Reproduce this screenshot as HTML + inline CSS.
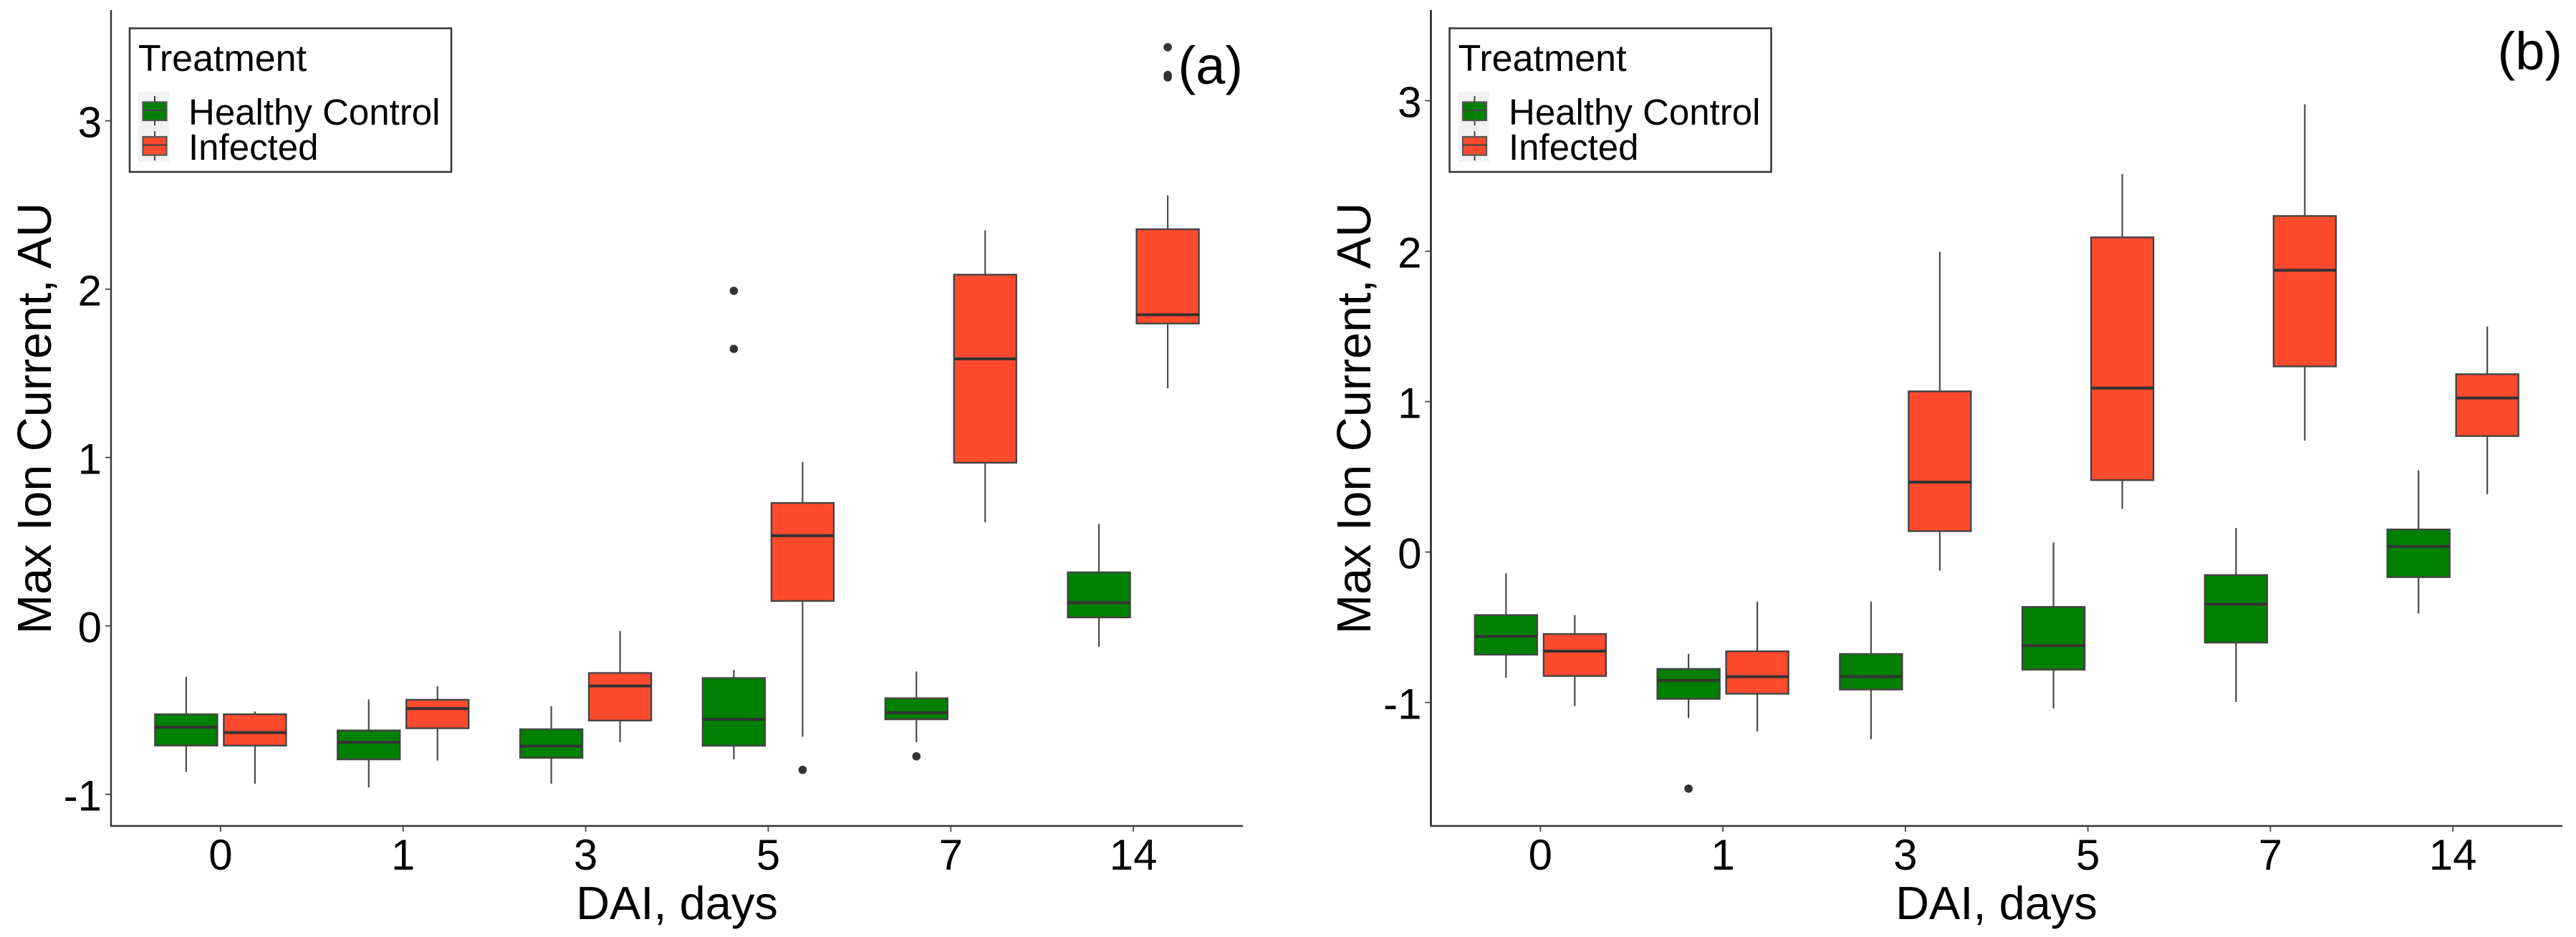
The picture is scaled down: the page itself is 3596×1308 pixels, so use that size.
<!DOCTYPE html>
<html lang="en">
<head>
<meta charset="utf-8">
<title>Max Ion Current boxplots</title>
<style>
html,body{margin:0;padding:0;background:#fff;}
svg{display:block;font-family:"Liberation Sans",Arial,sans-serif;fill:#000;}
</style>
</head>
<body>
<svg id="figure" xmlns="http://www.w3.org/2000/svg" width="3596" height="1308" viewBox="0 0 3596 1308">
  <rect x="0" y="0" width="3596" height="1308" fill="#ffffff"/>
  <g id="panel-a">
    <text transform="translate(71,584) rotate(-90)" text-anchor="middle" font-size="66.5">Max Ion Current, AU</text>
    <text x="945" y="1283" text-anchor="middle" font-size="65">DAI, days</text>
    <text x="1735" y="117" text-anchor="end" font-size="74">(a)</text>
    <g>
      <rect x="181" y="39.5" width="449" height="200.5" fill="#fff" stroke="#333" stroke-width="2.5"/>
      <text x="193" y="99" font-size="52">Treatment</text>
      <rect x="193" y="128" width="43.5" height="98" fill="#f2f2f2"/>
      <g>
        <line x1="216" x2="216" y1="134" y2="175" stroke="#444" stroke-width="2"/>
        <rect x="199.5" y="142.5" width="33" height="25.5" fill="#008000" stroke="#555" stroke-width="2.2"/>
        <line x1="199.5" x2="232.5" y1="154" y2="154" stroke="#444" stroke-width="2.2"/>
      </g>
      <g>
        <line x1="216" x2="216" y1="183" y2="224" stroke="#444" stroke-width="2"/>
        <rect x="199.5" y="191" width="33" height="25.5" fill="#ff4a2e" stroke="#555" stroke-width="2.2"/>
        <line x1="199.5" x2="232.5" y1="202.5" y2="202.5" stroke="#444" stroke-width="2.2"/>
      </g>
      <text x="263" y="174" font-size="51">Healthy Control</text>
      <text x="263" y="223" font-size="51">Infected</text>
    </g>
  </g>
  <g id="panel-b">
    <text transform="translate(1913,584) rotate(-90)" text-anchor="middle" font-size="66.5">Max Ion Current, AU</text>
    <text x="2787" y="1283" text-anchor="middle" font-size="65">DAI, days</text>
    <text x="3577" y="97" text-anchor="end" font-size="74">(b)</text>
    <g>
      <rect x="2023.5" y="39.5" width="449" height="200.5" fill="#fff" stroke="#333" stroke-width="2.5"/>
      <text x="2035.5" y="99" font-size="52">Treatment</text>
      <rect x="2035.5" y="128" width="43.5" height="98" fill="#f2f2f2"/>
      <g>
        <line x1="2058.5" x2="2058.5" y1="134" y2="175" stroke="#444" stroke-width="2"/>
        <rect x="2042" y="142.5" width="33" height="25.5" fill="#008000" stroke="#555" stroke-width="2.2"/>
        <line x1="2042" x2="2075" y1="154" y2="154" stroke="#444" stroke-width="2.2"/>
      </g>
      <g>
        <line x1="2058.5" x2="2058.5" y1="183" y2="224" stroke="#444" stroke-width="2"/>
        <rect x="2042" y="191" width="33" height="25.5" fill="#ff4a2e" stroke="#555" stroke-width="2.2"/>
        <line x1="2042" x2="2075" y1="202.5" y2="202.5" stroke="#444" stroke-width="2.2"/>
      </g>
      <text x="2106" y="174" font-size="51">Healthy Control</text>
      <text x="2106" y="223" font-size="51">Infected</text>
    </g>
  </g>
</svg>
<script>
const categories = ["0", "1", "3", "5", "7", "14"];
const yTickLabelsA = [-1, 0, 1, 2, 3];
const yTickLabelsB = [-1, 0, 1, 2, 3];

// Panel (a): Healthy Control
const aHealthyHigh = [-0.303, -0.437, -0.477, -0.262, -0.271, 0.606];
const aHealthyQ3 = [-0.525, -0.621, -0.614, -0.310, -0.430, 0.318];
const aHealthyMedian = [-0.602, -0.691, -0.714, -0.555, -0.516, 0.138];
const aHealthyQ1 = [-0.711, -0.793, -0.784, -0.712, -0.555, 0.050];
const aHealthyLow = [-0.867, -0.960, -0.938, -0.793, -0.691, -0.125];
const aHealthyOutliers = [[], [], [], [1.99, 1.645], [-0.775], []];

// Panel (a): Infected
const aInfectedHigh = [-0.509, -0.359, -0.030, 0.973, 2.349, 2.557];
const aInfectedQ3 = [-0.525, -0.439, -0.280, 0.730, 2.086, 2.356];
const aInfectedMedian = [-0.634, -0.491, -0.357, 0.536, 1.586, 1.848];
const aInfectedQ1 = [-0.711, -0.608, -0.562, 0.148, 0.969, 1.796];
const aInfectedLow = [-0.938, -0.800, -0.691, -0.659, 0.616, 1.411];
const aInfectedOutliers = [[], [], [], [-0.855], [], [3.437, 3.272, 3.258]];

// Panel (b): Healthy Control
const bHealthyHigh = [-0.141, -0.677, -0.329, 0.063, 0.160, 0.542];
const bHealthyQ3 = [-0.419, -0.777, -0.678, -0.365, -0.153, 0.150];
const bHealthyMedian = [-0.560, -0.854, -0.829, -0.622, -0.347, 0.037];
const bHealthyQ1 = [-0.682, -0.976, -0.914, -0.782, -0.602, -0.167];
const bHealthyLow = [-0.836, -1.104, -1.245, -1.040, -0.997, -0.409];
const bHealthyOutliers = [[], [-1.573], [], [], [], []];

// Panel (b): Infected
const bInfectedHigh = [-0.419, -0.329, 1.996, 2.513, 2.976, 1.499];
const bInfectedQ3 = [-0.545, -0.660, 1.068, 2.092, 2.234, 1.182];
const bInfectedMedian = [-0.659, -0.829, 0.465, 1.090, 1.873, 1.024];
const bInfectedQ1 = [-0.824, -0.942, 0.139, 0.478, 1.234, 0.771];
const bInfectedLow = [-1.024, -1.193, -0.123, 0.287, 0.741, 0.384];
const bInfectedOutliers = [[], [], [], [], [], []];

const NS = "http://www.w3.org/2000/svg";
const GREEN = "#008000";
const RED = "#ff4a2e";

function make(tag, attrs, parent) {
  const node = document.createElementNS(NS, tag);
  for (const key in attrs) node.setAttribute(key, attrs[key]);
  parent.appendChild(node);
  return node;
}

function drawSeries(parent, prefix, seriesKey, fill, offset, xScale, yScale, s) {
  categories.forEach(function (cat, i) {
    const cx = xScale(i) + offset;
    const halfWidth = 43.5;
    const g = make("g", {}, parent);
    
    

    const upper = make("line", { x1: cx, x2: cx, y1: yScale(s.high[i]), y2: yScale(s.q3[i]), stroke: "#4a4a4a", "stroke-width": 2.2 }, g);
    
    

    const lower = make("line", { x1: cx, x2: cx, y1: yScale(s.q1[i]), y2: yScale(s.low[i]), stroke: "#4a4a4a", "stroke-width": 2.2 }, g);
    
    

    const box = make("rect", {
      x: cx - halfWidth, y: yScale(s.q3[i]), width: halfWidth * 2,
      height: yScale(s.q1[i]) - yScale(s.q3[i]),
      fill: fill, stroke: "#444", "stroke-width": 2.4
    }, g);
    
    

    const med = make("line", { x1: cx - halfWidth, x2: cx + halfWidth, y1: yScale(s.median[i]), y2: yScale(s.median[i]), stroke: "#333", "stroke-width": 4 }, g);
    
    

    s.outliers[i].forEach(function (v) {
      const dot = make("circle", { cx: cx, cy: yScale(v), r: 5.8, fill: "#333" }, g);
      
      
    });
  });
}

function drawPanel(cfg) {
  const parent = document.getElementById(cfg.id);
  const step = (cfg.right - cfg.left) / (categories.length + 0.2);
  const xScale = function (i) { return cfg.left + (i + 0.6) * step; };
  const yScale = function (v) {
    return cfg.bottom - (v - cfg.yMin) / (cfg.yMax - cfg.yMin) * (cfg.bottom - cfg.top);
  };

  const marks = make("g", {}, parent);
  
  
  drawSeries(marks, cfg.id, 'healthy-control', GREEN, -48, xScale, yScale, cfg.healthy);
  drawSeries(marks, cfg.id, 'infected', RED, 48, xScale, yScale, cfg.infected);

  const yAxis = make("line", { x1: cfg.left, x2: cfg.left, y1: cfg.top, y2: cfg.bottom + 1, stroke: cfg.axisColor, "stroke-width": 2.4 }, parent);
  
  

  const xAxis = make("line", { x1: cfg.left - 1, x2: cfg.right, y1: cfg.bottom, y2: cfg.bottom, stroke: "#333", "stroke-width": 2.4 }, parent);
  
  

  cfg.yTicks.forEach(function (v) {
    const y = yScale(v);
    const tick = make("line", { x1: cfg.left - 8, x2: cfg.left, y1: y, y2: y, stroke: "#444", "stroke-width": 1.8 }, parent);
    
    

    const label = make("text", { x: cfg.left - 13, y: y + 23, "text-anchor": "end", "font-size": 60 }, parent);
    
    
    label.textContent = String(v);
  });

  categories.forEach(function (cat, i) {
    const x = xScale(i);
    const tick = make("line", { x1: x, x2: x, y1: cfg.bottom, y2: cfg.bottom + 8, stroke: "#444", "stroke-width": 1.8 }, parent);
    
    

    const label = make("text", { x: x, y: 1214, "text-anchor": "middle", "font-size": 60 }, parent);
    
    
    label.textContent = cat;
  });
}

drawPanel({
  id: "panel-a", left: 155, right: 1735, top: 14, bottom: 1153,
  yMin: -1.1885, yMax: 3.658, axisColor: "#333", yTicks: yTickLabelsA,
  healthy: { high: aHealthyHigh, q3: aHealthyQ3, median: aHealthyMedian, q1: aHealthyQ1, low: aHealthyLow, outliers: aHealthyOutliers },
  infected: { high: aInfectedHigh, q3: aInfectedQ3, median: aInfectedMedian, q1: aInfectedQ1, low: aInfectedLow, outliers: aInfectedOutliers }
});

drawPanel({
  id: "panel-b", left: 1997.5, right: 3577, top: 14, bottom: 1153,
  yMin: -1.821, yMax: 3.603, axisColor: "#111", yTicks: yTickLabelsB,
  healthy: { high: bHealthyHigh, q3: bHealthyQ3, median: bHealthyMedian, q1: bHealthyQ1, low: bHealthyLow, outliers: bHealthyOutliers },
  infected: { high: bInfectedHigh, q3: bInfectedQ3, median: bInfectedMedian, q1: bInfectedQ1, low: bInfectedLow, outliers: bInfectedOutliers }
});
</script>
</body>
</html>
